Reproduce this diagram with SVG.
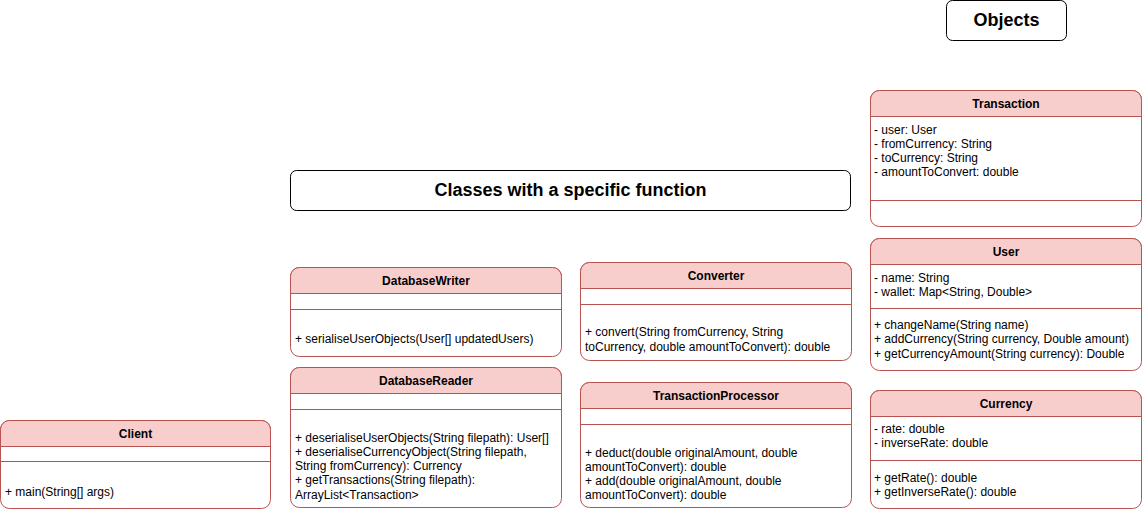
<svg xmlns="http://www.w3.org/2000/svg" width="1142" height="512" viewBox="0 0 1142 512">
<style>
.box{fill:#ffffff;stroke:#b85450;stroke-width:1}
.hd{fill:#f8cecc;stroke:#b85450;stroke-width:1}
.sep{stroke:#b85450;stroke-width:1;fill:none}
.ht{font-family:"Liberation Sans",Arial,sans-serif;font-size:12px;font-weight:bold;fill:#000;text-anchor:middle}
.m{font-family:"Liberation Sans",Arial,sans-serif;font-size:12px;fill:#000}
.title{fill:#ffffff;stroke:#000;stroke-width:1}
.tt{font-family:"Liberation Sans",Arial,sans-serif;font-size:18px;font-weight:bold;fill:#000;text-anchor:middle}
</style>
<rect width="1142" height="512" fill="#ffffff"/>
<g id="objects-title">
<rect class="title" x="946.5" y="0.5" width="120" height="40" rx="6"/>
<text class="tt" x="1006.5" y="26">Objects</text>
</g>
<g id="classes-title">
<rect class="title" x="290.5" y="170.5" width="560" height="40" rx="6"/>
<text class="tt" x="570.5" y="196">Classes with a specific function</text>
</g>
<g id="transaction">
<rect class="box" x="870.5" y="90.5" width="271" height="136" rx="9"/>
<path class="hd" d="M870.5 116.5 V99.5 a9 9 0 0 1 9 -9 H1132.5 a9 9 0 0 1 9 9 V116.5 Z"/>
<text class="ht" x="1006" y="107.5">Transaction</text>
<text class="m" x="874" y="134">- user: User</text>
<text class="m" x="874" y="148">- fromCurrency: String</text>
<text class="m" x="874" y="162">- toCurrency: String</text>
<text class="m" x="874" y="176">- amountToConvert: double</text>
<line class="sep" x1="870.5" y1="200.5" x2="1141.5" y2="200.5"/>
</g>
<g id="user">
<rect class="box" x="870.5" y="238.5" width="271" height="132" rx="9"/>
<path class="hd" d="M870.5 264.5 V247.5 a9 9 0 0 1 9 -9 H1132.5 a9 9 0 0 1 9 9 V264.5 Z"/>
<text class="ht" x="1006" y="255.5">User</text>
<text class="m" x="874" y="282">- name: String</text>
<text class="m" x="874" y="296">- wallet: Map&lt;String, Double&gt;</text>
<line class="sep" x1="870.5" y1="308.5" x2="1141.5" y2="308.5"/>
<text class="m" x="874" y="329">+ changeName(String name)</text>
<text class="m" x="874" y="343">+ addCurrency(String currency, Double amount)</text>
<text class="m" x="874" y="358">+ getCurrencyAmount(String currency): Double</text>
</g>
<g id="currency">
<rect class="box" x="870.5" y="390.5" width="271" height="118" rx="9"/>
<path class="hd" d="M870.5 416.5 V399.5 a9 9 0 0 1 9 -9 H1132.5 a9 9 0 0 1 9 9 V416.5 Z"/>
<text class="ht" x="1006" y="407.5">Currency</text>
<text class="m" x="874" y="433">- rate: double</text>
<text class="m" x="874" y="447">- inverseRate: double</text>
<line class="sep" x1="870.5" y1="460.5" x2="1141.5" y2="460.5"/>
<text class="m" x="874" y="482">+ getRate(): double</text>
<text class="m" x="874" y="496">+ getInverseRate(): double</text>
</g>
<g id="client">
<rect class="box" x="0.5" y="420.5" width="270" height="88" rx="9"/>
<path class="hd" d="M0.5 446.5 V429.5 a9 9 0 0 1 9 -9 H261.5 a9 9 0 0 1 9 9 V446.5 Z"/>
<text class="ht" x="135.5" y="437.5">Client</text>
<line class="sep" x1="0.5" y1="461.5" x2="270.5" y2="461.5"/>
<text class="m" x="5" y="496">+ main(String[] args)</text>
</g>
<g id="databasewriter">
<rect class="box" x="290.5" y="267.5" width="271" height="89" rx="9"/>
<path class="hd" d="M290.5 293.5 V276.5 a9 9 0 0 1 9 -9 H552.5 a9 9 0 0 1 9 9 V293.5 Z"/>
<text class="ht" x="426" y="284.5">DatabaseWriter</text>
<line class="sep" x1="290.5" y1="309.5" x2="561.5" y2="309.5"/>
<text class="m" x="295" y="343">+ serialiseUserObjects(User[] updatedUsers)</text>
</g>
<g id="databasereader">
<rect class="box" x="290.5" y="367.5" width="271" height="140" rx="9"/>
<path class="hd" d="M290.5 393.5 V376.5 a9 9 0 0 1 9 -9 H552.5 a9 9 0 0 1 9 9 V393.5 Z"/>
<text class="ht" x="426" y="384.5">DatabaseReader</text>
<line class="sep" x1="290.5" y1="409.5" x2="561.5" y2="409.5"/>
<text class="m" x="295" y="442">+ deserialiseUserObjects(String filepath): User[]</text>
<text class="m" x="295" y="456">+ deserialiseCurrencyObject(String filepath,</text>
<text class="m" x="295" y="470">String fromCurrency): Currency</text>
<text class="m" x="295" y="484">+ getTransactions(String filepath):</text>
<text class="m" x="295" y="499">ArrayList&lt;Transaction&gt;</text>
</g>
<g id="converter">
<rect class="box" x="580.5" y="262.5" width="271" height="98" rx="9"/>
<path class="hd" d="M580.5 288.5 V271.5 a9 9 0 0 1 9 -9 H842.5 a9 9 0 0 1 9 9 V288.5 Z"/>
<text class="ht" x="716" y="279.5">Converter</text>
<line class="sep" x1="580.5" y1="304.5" x2="851.5" y2="304.5"/>
<text class="m" x="585" y="336">+ convert(String fromCurrency, String</text>
<text class="m" x="585" y="351">toCurrency, double amountToConvert): double</text>
</g>
<g id="transactionprocessor">
<rect class="box" x="580.5" y="382.5" width="271" height="125" rx="9"/>
<path class="hd" d="M580.5 408.5 V391.5 a9 9 0 0 1 9 -9 H842.5 a9 9 0 0 1 9 9 V408.5 Z"/>
<text class="ht" x="716" y="399.5">TransactionProcessor</text>
<line class="sep" x1="580.5" y1="424.5" x2="851.5" y2="424.5"/>
<text class="m" x="585" y="457">+ deduct(double originalAmount, double</text>
<text class="m" x="585" y="471">amountToConvert): double</text>
<text class="m" x="585" y="485">+ add(double originalAmount, double</text>
<text class="m" x="585" y="499">amountToConvert): double</text>
</g>
<g id="connectors"></g>
</svg>
